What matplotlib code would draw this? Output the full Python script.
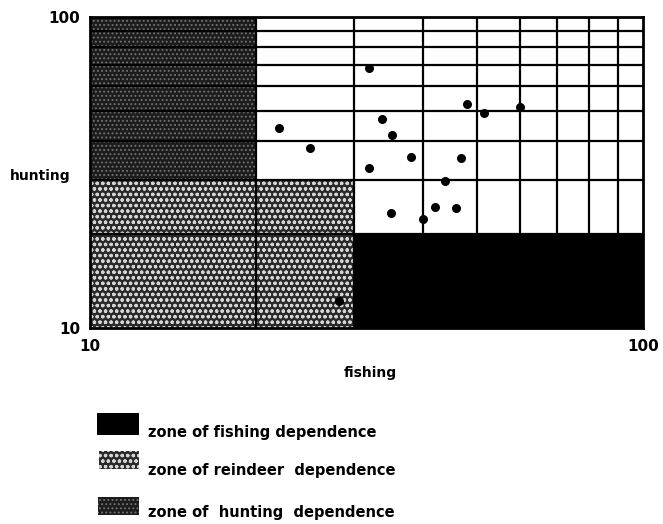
import matplotlib
matplotlib.use('Agg')
import matplotlib.pyplot as plt
from matplotlib.patches import Rectangle

# data (fishing %, hunting %)
fishing = [22.0, 25.0, 32.0, 32.0, 33.8, 35.1, 38.1, 48.0, 51.6, 59.8,
           46.9, 43.9, 35.0, 40.0, 42.0, 45.9, 28.2]
hunting = [44.0, 37.8, 68.7, 32.8, 46.9, 41.6, 35.5, 52.4, 49.1, 51.2,
           35.3, 29.7, 23.4, 22.4, 24.5, 24.4, 12.2]

grid_vals = [20, 30, 40, 50, 60, 70, 80, 90]

# zones: (x0, x1, y0, y1)
zone_hunting = (10, 20, 30, 100)
zone_reindeer = (10, 30, 10, 30)
zone_fishing = (30, 100, 10, 20)

legend_labels = ['zone of fishing dependence',
                 'zone of reindeer  dependence',
                 'zone of  hunting  dependence']

plt.rcParams['font.family'] = ['DejaVu Sans']
plt.rcParams['font.weight'] = 'bold'
plt.rcParams['hatch.linewidth'] = 0.9

W, H = 663, 524
fig = plt.figure(figsize=(W / 100, H / 100), dpi=100)
ax = fig.add_axes([90 / W, 1 - 328 / H, 553 / W, 311 / H])
ax.set_xscale('log')
ax.set_yscale('log')
ax.set_xlim(10, 100)
ax.set_ylim(10, 100)

styles = {
    'fishing': dict(facecolor='black', edgecolor='black', hatch=None),
    'reindeer': dict(facecolor='#2a2a2a', edgecolor='#d4d4d4', hatch='ooo'),
    'hunting': dict(facecolor='#1c1c1c', edgecolor='#707070', hatch='....'),
}

def zone(z, st):
    x0, x1, y0, y1 = z
    ax.add_patch(Rectangle((x0, y0), x1 - x0, y1 - y0, lw=0, zorder=1, **st))

zone(zone_hunting, styles['hunting'])
zone(zone_reindeer, styles['reindeer'])
zone(zone_fishing, styles['fishing'])

for v in grid_vals:
    ax.axvline(v, color='black', lw=1.6, zorder=2)
    ax.axhline(v, color='black', lw=1.6, zorder=2)

ax.scatter(fishing, hunting, s=30, color='black', zorder=3)

for s in ax.spines.values():
    s.set_linewidth(2)
    s.set_zorder(4)

ax.minorticks_off()
ax.set_xticks([10, 100])
ax.set_yticks([10, 100])
ax.set_xticklabels(['10', '100'], fontsize=11, fontweight='bold')
ax.set_yticklabels(['10', '100'], fontsize=11, fontweight='bold')
ax.tick_params(length=0, pad=8)
ax.tick_params(axis='y', pad=7)

fig.text(10 / W, 1 - 176 / H, 'hunting', fontsize=10, fontweight='bold', va='center', ha='left')
fig.text(370 / W, 1 - 373 / H, 'fishing', fontsize=10, fontweight='bold', va='center', ha='center')

# legend drawn by hand
leg_rects = [(97, 413, 42, 22), (99, 451, 40, 18), (98, 497, 41, 18)]
leg_text_y = [433, 470, 513]
leg_styles = [styles['fishing'], styles['reindeer'], styles['hunting']]
for (px, py, pw, ph), ty, st, lab in zip(leg_rects, leg_text_y, leg_styles, legend_labels):
    fig.add_artist(Rectangle((px / W, 1 - (py + ph) / H), pw / W, ph / H,
                             transform=fig.transFigure, lw=0, **st))
    fig.text(148 / W, 1 - ty / H, lab, fontsize=10.5, fontweight='bold', va='center', ha='left')

fig.savefig('out.png', dpi=100)
